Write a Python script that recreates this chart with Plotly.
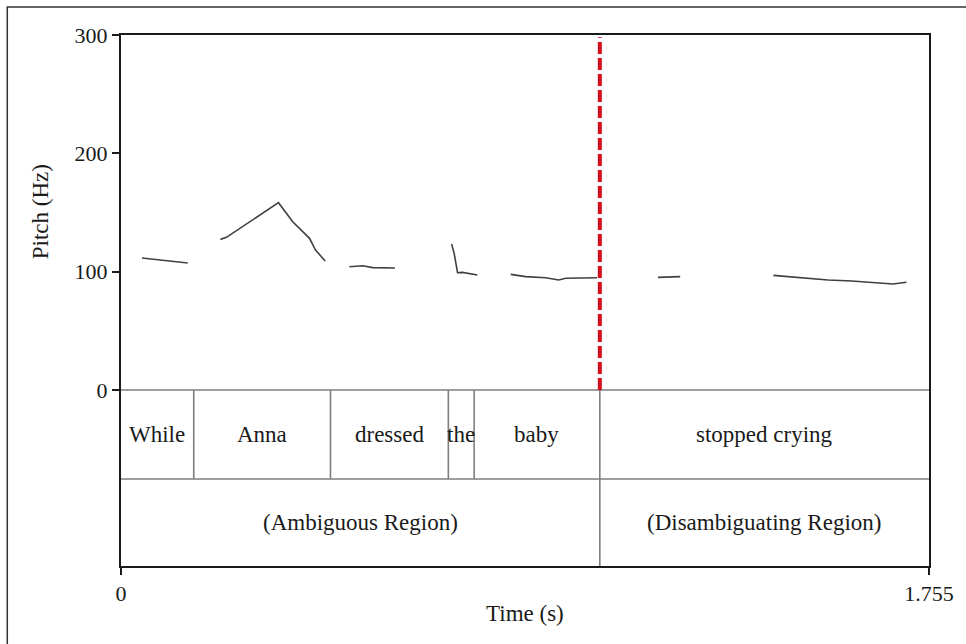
import plotly.graph_objects as go

# ---- data ----
pitch_time = [0.0455, 0.145, None,
              0.216, 0.229, 0.342, 0.373, 0.4095, 0.4225, 0.4435, None,
              0.496, 0.525, 0.547, 0.595, None,
              0.718, 0.7236, 0.731, 0.7417, 0.774, None,
              0.8465, 0.879, 0.922, 0.951, 0.966, 1.034, None,
              1.1664, 1.2146, None,
              1.417, 1.471, 1.536, 1.587, 1.637, 1.677, 1.706]
pitch_hz = [111.5, 107.3, None,
            127.3, 129.0, 158.3, 142.2, 128.2, 118.3, 109.0, None,
            104.2, 105.0, 103.4, 103.1, None,
            123.4, 115.5, 99.1, 99.4, 97.2, None,
            97.7, 95.8, 94.9, 93.0, 94.4, 94.9, None,
            95.2, 95.8, None,
            96.9, 95.2, 93.0, 92.1, 90.7, 89.6, 91.0]

word_labels = ["While", "Anna", "dressed", "the", "baby", "stopped crying"]
word_bounds = [0.0, 0.158, 0.455, 0.711, 0.767, 1.040, 1.755]
region_labels = ["(Ambiguous Region)", "(Disambiguating Region)"]
region_bounds = [0.0, 1.040, 1.755]
disamb_time = 1.040

x_max = 1.755
y_ticks = [0, 100, 200, 300]
tier_top = 0
tier_mid = -75.2
tier_bottom = -148.7

FONT = "Liberation Serif, Times New Roman, serif"
TXT = "#1a1a1a"
GRAY = "#7f7f7f"

fig = go.Figure()
fig.add_trace(go.Scatter(x=pitch_time, y=pitch_hz, mode="lines",
                         line=dict(color="#404040", width=1.6),
                         connectgaps=False, showlegend=False, hoverinfo="skip"))

shapes = []
shapes.append(dict(type="line", xref="x", yref="y", x0=0, x1=x_max, y0=tier_top, y1=tier_top,
                   line=dict(color=GRAY, width=1.6)))
shapes.append(dict(type="line", xref="x", yref="y", x0=0, x1=x_max, y0=tier_mid, y1=tier_mid,
                   line=dict(color=GRAY, width=1.6)))
for b in word_bounds[1:-1]:
    shapes.append(dict(type="line", xref="x", yref="y", x0=b, x1=b, y0=tier_top, y1=tier_mid,
                       line=dict(color=GRAY, width=1.6)))
for b in region_bounds[1:-1]:
    shapes.append(dict(type="line", xref="x", yref="y", x0=b, x1=b, y0=tier_mid, y1=tier_bottom,
                       line=dict(color=GRAY, width=1.6)))
shapes.append(dict(type="line", xref="x", yref="y", x0=disamb_time, x1=disamb_time, y0=0, y1=298,
                   line=dict(color="#d40f1c", width=4, dash="12px,4px")))
shapes.append(dict(type="rect", xref="paper", yref="paper",
                   x0=(7 - 121) / 810, x1=(990 - 121) / 810,
                   y0=(566 - 670) / 531, y1=(566 - 7) / 531,
                   line=dict(color="#333333", width=1.5), layer="below"))

annotations = []
for i, lab in enumerate(word_labels):
    annotations.append(dict(x=(word_bounds[i] + word_bounds[i + 1]) / 2, y=(tier_top + tier_mid) / 2,
                            xref="x", yref="y", text=lab, showarrow=False,
                            xanchor="center", yanchor="middle",
                            font=dict(family=FONT, size=23, color=TXT)))
for i, lab in enumerate(region_labels):
    annotations.append(dict(x=(region_bounds[i] + region_bounds[i + 1]) / 2, y=(tier_mid + tier_bottom) / 2,
                            xref="x", yref="y", text=lab, showarrow=False,
                            xanchor="center", yanchor="middle",
                            font=dict(family=FONT, size=23, color=TXT)))
annotations.append(dict(x=(40 - 121) / 810, y=(566 - 212) / 531, xref="paper", yref="paper",
                        text="Pitch (Hz)", textangle=-90, showarrow=False,
                        xanchor="center", yanchor="middle",
                        font=dict(family=FONT, size=23, color=TXT)))
annotations.append(dict(x=(526 - 121) / 810, y=(566 - 613) / 531, xref="paper", yref="paper",
                        text="Time (s)", showarrow=False,
                        xanchor="center", yanchor="middle",
                        font=dict(family=FONT, size=23, color=TXT)))

fig.update_layout(
    width=966, height=644,
    margin=dict(l=121, r=35, t=35, b=78),
    paper_bgcolor="white", plot_bgcolor="white",
    shapes=shapes, annotations=annotations,
    xaxis=dict(range=[0, x_max], tickvals=[0, x_max], ticktext=["0", "1.755"],
               ticks="outside", ticklen=7, tickwidth=1.5, tickcolor="#1a1a1a",
               showline=True, linecolor="#1a1a1a", linewidth=2, mirror=True,
               showgrid=False, zeroline=False,
               tickfont=dict(family=FONT, size=22, color=TXT)),
    yaxis=dict(range=[tier_bottom, 300], tickvals=y_ticks, ticktext=[str(v) for v in y_ticks],
               ticks="outside", ticklen=7, tickwidth=1.5, tickcolor="#1a1a1a",
               showline=True, linecolor="#1a1a1a", linewidth=2, mirror=True,
               showgrid=False, zeroline=False,
               tickfont=dict(family=FONT, size=22, color=TXT)),
    font=dict(family=FONT, size=22, color=TXT),
)

fig.write_html("out.html")
